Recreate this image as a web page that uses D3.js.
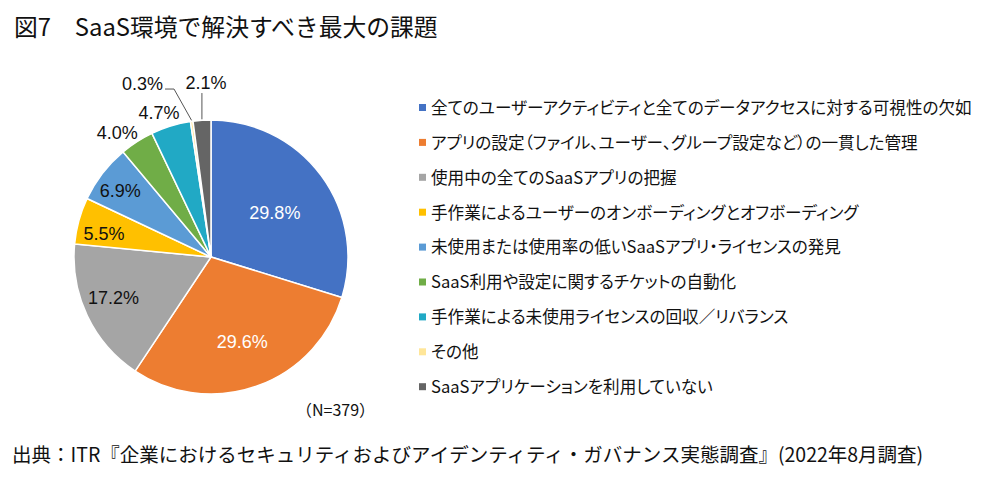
<!DOCTYPE html>
<html>
<head>
<meta charset="utf-8">
<script src="https://cdn.jsdelivr.net/npm/d3@7"></script>
<style>
  body { margin: 0; background: #fff; }
  svg { display: block; }
  .jp { font-family: "Noto Sans CJK JP", sans-serif; }
  .palt { font-feature-settings: "palt"; }
  .num { font-family: "Liberation Sans", Arial, sans-serif; }
</style>
</head>
<body>
<script>
// chart data
var categories = [
  "全てのユーザーアクティビティと全てのデータアクセスに対する可視性の欠如",
  "アプリの設定（ファイル、ユーザー、グループ設定など）の一貫した管理",
  "使用中の全てのSaaSアプリの把握",
  "手作業によるユーザーのオンボーディングとオフボーディング",
  "未使用または使用率の低いSaaSアプリ・ライセンスの発見",
  "SaaS利用や設定に関するチケットの自動化",
  "手作業による未使用ライセンスの回収／リバランス",
  "その他",
  "SaaSアプリケーションを利用していない"
];
var values = [29.8, 29.6, 17.2, 5.5, 6.9, 4.0, 4.7, 0.3, 2.1];
var colors = ["#4472C4", "#ED7D31", "#A5A5A5", "#FFC000", "#5B9BD5", "#70AD47", "#21A9C5", "#FFE699", "#656565"];

var title = "図7　SaaS環境で解決すべき最大の課題";
var note = "（N=379）";
var source = "出典：ITR『企業におけるセキュリティおよびアイデンティティ・ガバナンス実態調査』(2022年8月調査)";

var width = 1000, height = 484;
var cx = 211, cy = 257, R = 137;

// label distance from centre (fraction of R), 0 = leader line label
var labelR = [0.57, 0.66, 0.77, 0.8, 0.82, 1.14, 1.12, 0, 0];
// small angle nudges (degrees) for label placement
var labelNudge = [1.3, -0.6, 3, -3, -1.6, -4.2, -2.7, 0, 0];
var labelWhite = [true, true, false, false, false, false, false, false, false];

var svg = d3.select("body").append("svg")
  .attr("width", width)
  .attr("height", height);

// title
svg.append("text")
  .attr("class", "jp")
  .attr("x", 14)
  .attr("y", 36)
  .attr("font-size", 23.8)
  .attr("fill", "#111")
  .text(title);

var pie = d3.pie().sort(null).value(function(d){ return d; });
var arcs = pie(values);
var arc = d3.arc().innerRadius(0).outerRadius(R);

var g = svg.append("g").attr("transform", "translate(" + cx + "," + cy + ")");

g.selectAll("path")
  .data(arcs)
  .enter()
  .append("path")
  .attr("d", arc)
  .attr("fill", function(d, i){ return colors[i]; })
  .attr("stroke", "#fff")
  .attr("stroke-width", 1.5);

// percent labels
var elbowY = -R * 1.226;
arcs.forEach(function(d, i){
  var a = (d.startAngle + d.endAngle) / 2;
  var txt = values[i].toFixed(1) + "%";
  if (labelR[i] > 0) {
    var r = labelR[i] * R;
    var la = a + labelNudge[i] * Math.PI / 180;
    g.append("text")
      .attr("class", "num")
      .attr("x", Math.sin(la) * r)
      .attr("y", -Math.cos(la) * r)
      .attr("dy", "0.36em")
      .attr("text-anchor", "middle")
      .attr("font-size", 18)
      .attr("fill", labelWhite[i] ? "#fff" : "#111")
      .text(txt);
  } else {
    // leader line labels for tiny slices
    var ex = Math.sin(a) * (R + 1), ey = -Math.cos(a) * (R + 1);
    var pts, lx, ly, anchor;
    if (values[i] < 1) {
      var kx = ex + (elbowY - ey) * 0.56;
      pts = [[ex, ey], [kx, elbowY], [kx - 9, elbowY]];
      lx = kx - 11; ly = elbowY - 6; anchor = "end";
    } else {
      pts = [[ex, ey], [ex, elbowY + 4]];
      lx = ex + 4; ly = elbowY - 7; anchor = "middle";
    }
    g.append("path")
      .attr("d", d3.line()(pts))
      .attr("fill", "none")
      .attr("stroke", "#555")
      .attr("stroke-width", 1);
    g.append("text")
      .attr("class", "num")
      .attr("x", lx)
      .attr("y", ly)
      .attr("dy", "0.36em")
      .attr("text-anchor", anchor)
      .attr("font-size", 18)
      .attr("fill", "#111")
      .text(txt);
  }
});

// legend
var ly0 = 108, lstep = 34.9;
var legend = svg.append("g");
categories.forEach(function(c, i){
  var y = ly0 + i * lstep;
  legend.append("rect")
    .attr("x", 419)
    .attr("y", y - 4)
    .attr("width", 7)
    .attr("height", 7)
    .attr("fill", colors[i]);
  legend.append("text")
    .attr("class", "jp palt")
    .attr("x", 431)
    .attr("y", y)
    .attr("dy", "0.35em")
    .attr("font-size", 16.6)
    .attr("fill", "#111")
    .text(c);
});

// N note
svg.append("text")
  .attr("class", "jp")
  .attr("x", 296)
  .attr("y", 410)
  .attr("dy", "0.35em")
  .attr("font-size", 16)
  .attr("fill", "#111")
  .text(note);

// source
svg.append("text")
  .attr("class", "jp")
  .attr("x", 12)
  .attr("y", 455)
  .attr("dy", "0.35em")
  .attr("font-size", 19.5)
  .attr("fill", "#111")
  .text(source);
</script>
</body>
</html>
